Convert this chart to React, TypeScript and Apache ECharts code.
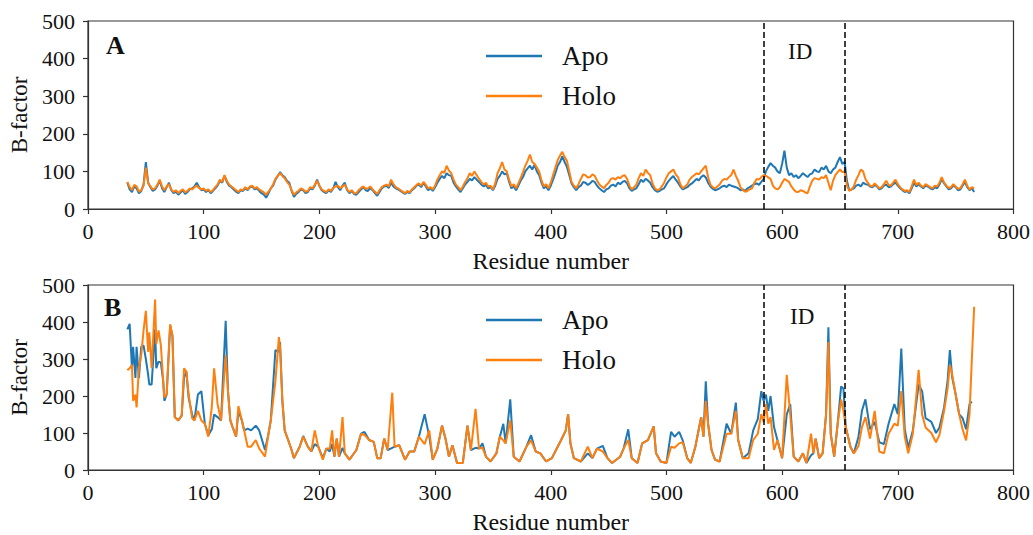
import React, { useEffect, useRef } from "react";
import * as echarts from "echarts";

const FONT = "'Liberation Serif', 'Times New Roman', serif";

// Panel A: residues 34..766 every 2 residues
const residueStartA = 34;
const residueStepA = 2;

const apoA = [
70,52,45,60,55,42,48,65,125,70,58,48,52,62,75,55,45,58,70,50,
42,46,38,44,50,40,45,52,55,60,70,58,50,52,45,50,42,48,55,62,
75,70,88,72,62,58,52,46,42,50,48,55,50,58,60,52,55,48,42,38,
30,42,55,62,78,88,98,90,85,75,70,48,32,40,45,52,50,42,45,55,
52,62,78,62,50,45,42,50,45,55,72,58,50,62,70,50,42,48,40,38,
45,52,58,50,48,56,50,42,35,45,55,60,62,56,70,60,55,52,48,44,
40,45,42,50,55,62,65,58,70,60,50,55,48,58,70,80,88,82,95,90,
88,70,60,52,45,55,65,72,80,76,85,78,72,65,60,64,55,58,50,62,
80,88,100,92,95,72,55,60,50,62,75,85,100,108,115,105,118,100,90,70,
55,60,50,62,78,95,115,125,140,125,112,90,68,58,50,58,62,72,70,64,
68,75,72,62,55,50,45,52,55,62,65,60,70,66,72,75,68,55,48,52,
55,66,78,72,80,76,70,58,50,46,48,52,55,66,75,82,88,78,70,60,
52,55,58,64,68,74,80,76,85,90,84,70,60,54,50,52,55,60,62,58,
65,62,60,58,55,50,52,48,55,58,62,66,68,64,72,80,100,112,122,115,
110,100,95,120,155,110,90,95,85,90,82,88,95,90,85,92,95,105,100,98,
110,105,115,100,95,105,110,125,138,120,125,75,50,52,55,62,65,60,70,66,
65,60,58,64,60,52,55,62,65,58,60,66,70,62,55,50,45,48,42,55,
70,60,65,60,55,62,60,55,52,58,55,65,80,68,60,52,55,62,58,50,
52,62,72,58,50,55,45];

const holoA = [
72,58,50,64,60,46,50,62,110,68,60,52,55,65,78,60,50,60,66,52,
45,50,42,48,52,44,48,55,52,58,62,56,52,55,48,52,45,50,58,65,
78,72,90,75,65,60,55,50,45,52,50,58,52,60,62,55,58,52,48,44,
38,46,55,65,80,88,95,88,82,72,65,50,38,44,48,55,52,46,48,58,
55,64,75,62,52,48,45,52,48,56,60,62,55,60,65,52,45,50,42,42,
50,56,60,54,55,60,52,46,40,50,58,62,65,60,78,66,58,55,50,46,
42,48,44,52,58,64,68,62,72,64,55,58,52,62,78,90,100,96,115,102,
95,78,65,58,50,60,72,82,95,88,100,90,80,72,65,70,60,62,52,68,
95,108,125,105,100,78,60,66,55,68,82,98,115,128,145,125,120,110,100,76,
60,66,55,70,90,110,130,142,152,138,128,100,72,62,55,66,80,92,90,84,
85,92,88,76,65,60,55,64,70,80,82,78,85,82,88,90,80,62,52,58,
65,82,95,88,105,96,90,68,55,50,52,60,70,84,95,100,105,92,85,66,
55,60,65,78,85,90,95,92,100,108,115,85,65,58,55,60,65,75,80,78,
85,90,105,88,75,58,50,46,48,52,55,70,80,78,85,90,88,84,80,62,
55,52,58,70,80,76,72,60,52,46,45,50,48,44,42,60,75,82,80,78,
85,82,90,70,50,75,90,98,105,98,100,62,48,52,60,78,90,105,100,80,
70,62,60,68,62,55,58,66,75,64,62,70,78,66,58,52,48,50,45,60,
78,64,70,62,58,66,62,58,55,62,60,70,85,70,62,56,58,66,60,54,
55,66,78,62,52,58,55];

const residuesB = [34,36,38,39,41,42,44,46,48,50,52,53,55,58,59,61,63,65,66,68,71,73,75,78,81,83,85,87,90,92,95,98,101,104,107,109,112,115,119,121,123,125,128,130,133,135,138,141,145,148,153,156,158,162,165,166,168,170,173,176,178,183,186,190,193,196,199,203,206,209,211,213,215,217,220,222,226,232,236,239,243,247,250,253,256,259,263,265,269,274,278,282,286,291,295,298,302,306,309,312,315,319,324,328,331,335,338,341,344,348,353,356,359,361,365,368,373,379,383,387,391,396,401,406,409,413,415,417,420,426,432,436,440,445,449,453,460,463,467,470,475,479,484,489,491,495,500,504,507,511,514,518,521,525,530,532,534,536,539,542,546,552,556,560,562,566,571,575,579,582,584,586,588,590,593,596,600,604,607,610,614,618,621,625,627,629,632,635,638,640,642,645,648,651,653,655,659,662,666,669,672,676,680,684,688,692,697,700,703,706,709,713,718,721,724,729,733,736,740,743,745,747,750,753,756,759,762,764,766];

const apoB = [380,395,275,333,249,333,248,333,337,300,257,231,231,381,275,293,290,240,187,204,390,363,143,134,147,250,266,195,150,134,204,213,125,94,110,150,143,134,403,213,134,116,90,160,134,107,112,107,120,107,54,98,134,324,319,346,187,107,81,54,32,63,92,63,50,70,63,32,58,50,70,36,85,36,60,45,28,54,98,103,81,76,32,32,85,54,60,63,67,28,50,50,90,151,90,28,58,120,85,36,67,19,19,120,54,60,58,72,36,23,45,90,125,72,191,36,23,63,94,50,45,23,32,63,81,107,151,72,32,23,45,32,58,65,32,19,36,58,110,32,19,72,81,118,45,23,19,103,90,103,81,32,19,63,143,90,240,125,54,28,23,125,98,182,81,32,45,107,138,213,187,204,160,200,116,80,32,150,178,36,23,45,19,40,45,85,32,45,151,386,98,36,125,226,220,116,63,45,90,160,191,110,130,75,70,125,178,151,328,110,60,107,231,213,140,130,100,115,169,240,324,250,204,151,140,110,178,185,null];

const holoB = [270,275,284,187,204,169,275,310,377,430,319,372,275,461,340,377,337,240,196,204,394,363,143,134,147,275,266,204,140,134,160,134,125,90,169,275,178,134,310,213,134,116,90,173,134,107,63,63,81,58,36,98,134,240,359,330,187,107,81,54,32,63,90,63,50,107,63,28,58,58,107,36,85,36,143,45,28,54,98,95,81,76,32,32,85,54,209,63,67,28,50,50,90,70,107,28,58,120,85,36,67,19,19,120,54,165,58,60,36,23,45,90,80,72,134,36,23,63,80,50,45,23,32,63,81,107,151,72,32,23,63,32,58,50,32,19,36,58,81,32,19,72,81,118,45,23,19,63,60,72,75,32,19,63,143,90,187,125,54,28,23,98,98,160,81,32,32,81,98,151,130,178,125,143,54,81,32,257,150,36,23,45,19,98,45,85,32,45,151,346,98,36,125,191,160,116,63,45,65,116,143,85,160,50,45,98,125,120,213,90,45,98,271,150,115,100,75,95,160,220,284,258,204,151,110,80,151,300,441];

const xTicks = [0, 800, 100];
const yTicks = [0, 500, 100];
const idBounds = [584, 654.5];
const legendNames = ["Apo", "Holo"];

const BLUE = "#1f77b4";
const ORANGE = "#ff7f0e";
const INK = "#111";
const SPINE = "#333";

function pairsA(ys: number[]) {
  return ys.map((y, i) => [residueStartA + i * residueStepA, y]);
}
function pairs(xs: number[], ys: (number | null)[]) {
  return xs.map((x, i) => [x, ys[i]]);
}

function xAxisCfg(gridIndex: number) {
  return {
    type: "value",
    gridIndex,
    min: xTicks[0],
    max: xTicks[1],
    interval: xTicks[2],
    axisLine: { show: true, lineStyle: { color: SPINE, width: 1.2 } },
    axisTick: { show: true, length: 5, lineStyle: { color: SPINE, width: 1.2 } },
    axisLabel: { fontSize: 22, color: INK, fontFamily: FONT, margin: 11 },
    splitLine: { show: false },
    name: "Residue number",
    nameLocation: "middle",
    nameGap: 40,
    nameTextStyle: { fontSize: 24, color: INK, fontFamily: FONT },
  };
}

function yAxisCfg(gridIndex: number) {
  return {
    type: "value",
    gridIndex,
    min: yTicks[0],
    max: yTicks[1],
    interval: yTicks[2],
    axisLine: { show: true, lineStyle: { color: SPINE, width: 1.2 } },
    axisTick: { show: true, length: 5, lineStyle: { color: SPINE, width: 1.2 } },
    axisLabel: { fontSize: 22, color: INK, fontFamily: FONT, margin: 13 },
    splitLine: { show: false },
    name: "B-factor",
    nameLocation: "middle",
    nameGap: 55,
    nameRotate: 90,
    nameTextStyle: { fontSize: 23, color: INK, fontFamily: FONT },
  };
}

function legendCfg(top: number) {
  return {
    orient: "vertical",
    left: 486,
    top,
    padding: 0,
    icon: "rect",
    itemWidth: 56,
    itemHeight: 2.5,
    itemGap: 10,
    selectedMode: false,
    textStyle: { fontSize: 27, fontFamily: FONT, color: INK, lineHeight: 30, padding: [0, 0, 0, 15] },
    data: legendNames,
  };
}

const markLineCfg = {
  silent: true,
  symbol: "none",
  label: { show: false },
  lineStyle: { type: [6, 3], color: "#000", width: 1.5 },
  data: idBounds.map((v) => ({ xAxis: v })),
};

function lineSeries(name: string, color: string, idx: number, data: any[], withMark: boolean) {
  const s: any = {
    name,
    type: "line",
    xAxisIndex: idx,
    yAxisIndex: idx,
    data,
    showSymbol: false,
    symbol: "none",
    lineStyle: { color, width: 2 },
    itemStyle: { color },
    z: withMark ? 3 : 2,
  };
  if (withMark) s.markLine = markLineCfg;
  return s;
}

function txt(text: string, x: number, y: number, size: number, bold = false) {
  return {
    type: "text",
    x,
    y,
    style: {
      text,
      fontSize: size,
      fontFamily: FONT,
      fontWeight: bold ? "bold" : "normal",
      fill: INK,
      verticalAlign: "middle",
      align: "left",
    },
  };
}

export default function App() {
  const ref = useRef<HTMLDivElement>(null);
  useEffect(() => {
    document.body.style.margin = "0";
    if (!ref.current) return;
    const chart = echarts.init(ref.current, undefined, { renderer: "svg" });
    chart.setOption({
      animation: false,
      backgroundColor: "#fff",
      textStyle: { fontFamily: FONT },
      grid: [
        { left: 88, top: 21, width: 927, height: 188, show: true, borderColor: SPINE, borderWidth: 1.2 },
        { left: 88, top: 285, width: 927, height: 189, show: true, borderColor: SPINE, borderWidth: 1.2 },
      ],
      xAxis: [xAxisCfg(0), xAxisCfg(1)],
      yAxis: [yAxisCfg(0), yAxisCfg(1)],
      legend: [legendCfg(41), legendCfg(305)],
      series: [
        lineSeries("Apo", BLUE, 0, pairsA(apoA), false),
        lineSeries("Holo", ORANGE, 0, pairsA(holoA), true),
        lineSeries("Apo", BLUE, 1, pairs(residuesB, apoB), false),
        lineSeries("Holo", ORANGE, 1, pairs(residuesB, holoB), true),
      ],
      graphic: [
        txt("A", 106, 45, 26, true),
        txt("B", 104, 307, 26, true),
        txt("ID", 788, 51, 23),
        txt("ID", 790, 316, 23),
      ],
    });
    return () => chart.dispose();
  }, []);
  return <div ref={ref} style={{ width: 1033, height: 535 }} />;
}
